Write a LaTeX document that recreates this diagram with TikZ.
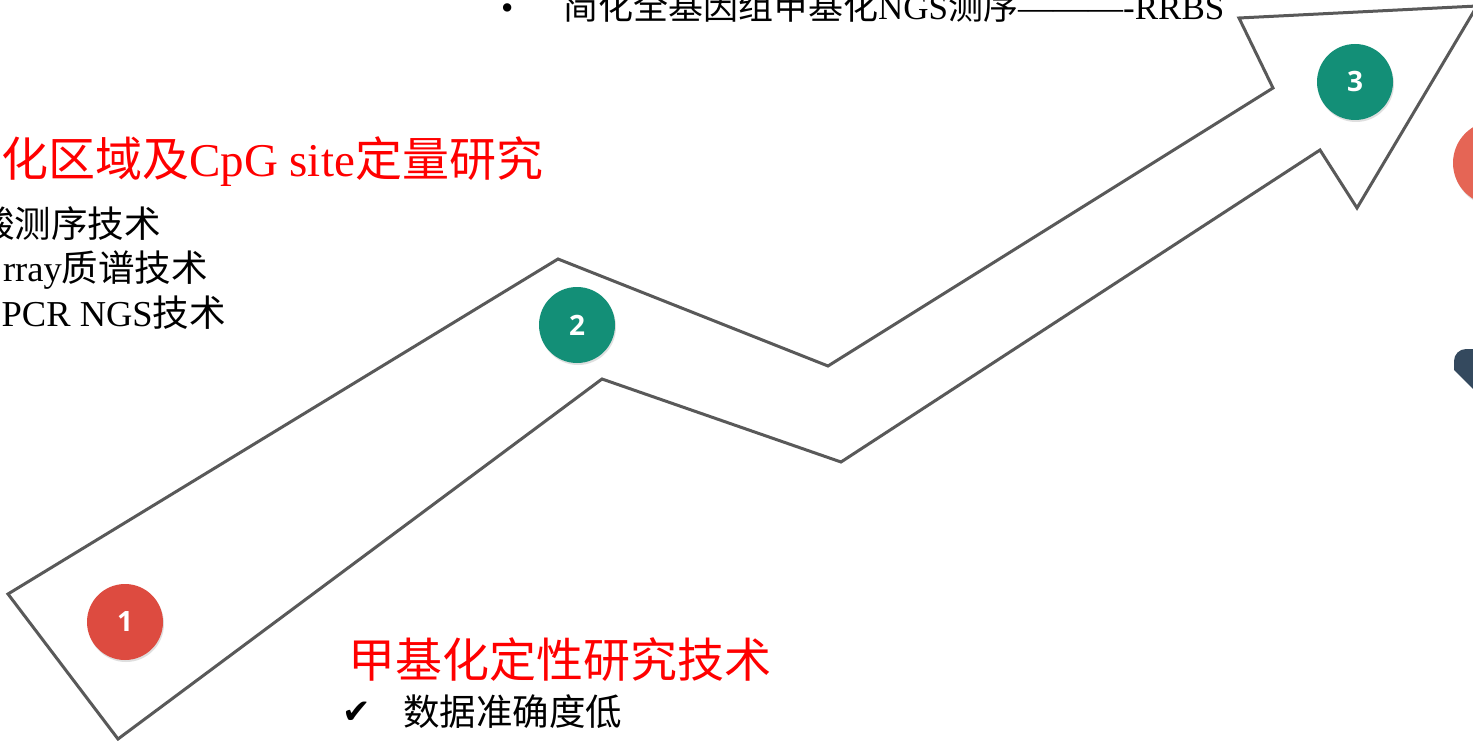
\documentclass[tikz,border=0pt]{standalone}
\usepackage{fontspec}
\setmainfont{Liberation Serif}
\newfontfamily\cjk{Noto Sans CJK SC}
\newfontfamily\dejavu{DejaVu Sans}
\newfontfamily\numfont{Open Sans}
\usetikzlibrary{shadows}
\definecolor{arrowgray}{HTML}{595959}
\definecolor{cred}{HTML}{DD4B40}
\definecolor{cteal}{HTML}{138F77}
\definecolor{corange}{HTML}{E56555}
\definecolor{cnavy}{HTML}{34495E}
\definecolor{tred}{HTML}{FF0000}
\tikzset{
  numdot/.style={circle, minimum size=76pt, inner sep=0pt, text=white,
    font=\numfont\bfseries\fontsize{28}{28}\selectfont,
    drop shadow={opacity=0.25, shadow xshift=1pt, shadow yshift=-2pt}},
  redtitle/.style={inner sep=0pt, text=tred, font=\fontsize{47}{47}\selectfont},
  bodytext/.style={inner sep=0pt, text=black, font=\fontsize{36.5}{36.5}\selectfont},
  toptext/.style={inner sep=0pt, text=black, font=\fontsize{35}{35}\selectfont},
  arrowline/.style={draw=arrowgray, line width=3pt, line join=miter, fill=white}
}
\begin{document}
\begin{tikzpicture}[x=1pt, y=-1pt]
\useasboundingbox (0,0) rectangle (1473,741);
\clip (0,0) rectangle (1473,741);
\fill[white] (0,0) rectangle (1473,741);
% big zig-zag arrow
\path[arrowline] (8,594) -- (558,259) -- (828,366) -- (1273,88) -- (1239,18) -- (1477,6)
  -- (1357,208) -- (1320,150) -- (841,462) -- (602,379) -- (118,739) -- cycle;
% numbered dots
\node[numdot, fill=cred] (n1) at (125,622) {1};
\node[numdot, fill=cteal] (n2) at (577,325) {2};
\node[numdot, fill=cteal] (n3) at (1355,82) {3};
\node[numdot, fill=corange, minimum size=84pt] (n4) at (1495,163) {};
% navy partial shape
\fill[cnavy] (1480,349) -- (1466,349) to[out=180,in=90] (1454,361) -- (1454,370) -- (1475,391) -- cycle;
% top line
\node[toptext, anchor=base west] (bul) at (501,20) {•};
\node[toptext, anchor=base west] (t3) at (563,20) {{\cjk 简化全基因组甲基化}NGS{\cjk 测序}———-RRBS};
% title 2 and items
\node[redtitle, anchor=base west] (t2) at (1,176) {{\cjk 化区域及}CpG site{\cjk 定量研究}};
\node[bodytext, anchor=base east] (i1) at (161,237) {\cjk 酸测序技术};
\node[bodytext, anchor=base east] (i2) at (208,281) {rray{\cjk 质谱技术}};
\node[bodytext, anchor=base east] (i3) at (226,326) {PCR NGS{\cjk 技术}};
% title 1
\node[redtitle, anchor=base west] (t1) at (348,677) {\cjk 甲基化定性研究技术};
\node[bodytext, anchor=base west] (ck) at (342,723) {\dejavu\fontsize{34}{34}\selectfont ✔};
\node[bodytext, anchor=base west] (i4) at (403,725) {\cjk 数据准确度低};
\end{tikzpicture}
\end{document}
